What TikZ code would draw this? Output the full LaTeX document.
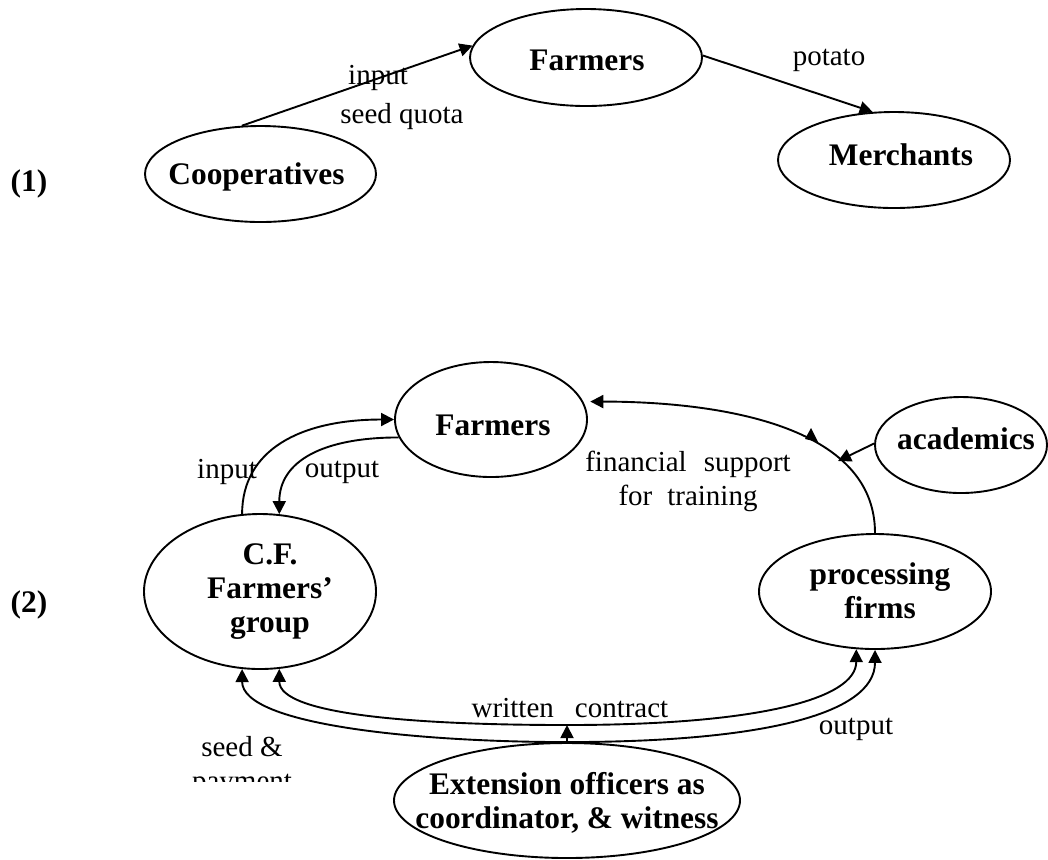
\documentclass[tikz,border=0pt]{standalone}
\usepackage{fontspec}
\setmainfont{Liberation Serif}
\usetikzlibrary{arrows.meta,shapes.geometric}
\begin{document}
\begin{tikzpicture}[x=0.5pt,y=-0.5pt,
  ell/.style={draw,ellipse,line width=0.95pt,inner sep=0pt},
  bt/.style={font=\fontsize{15.7}{17}\selectfont\bfseries,align=center,inner sep=0pt},
  lt/.style={font=\fontsize{14.5}{17}\selectfont,align=center,inner sep=0pt},
  con/.style={line width=0.95pt,-{Triangle[length=6.5pt,width=6.5pt]}},
  dcon/.style={line width=0.95pt,{Triangle[length=6.5pt,width=6.5pt]}-{Triangle[length=6.5pt,width=6.5pt]}}]
\useasboundingbox (0,0) rectangle (1048,859);

% ---------- diagram (1) ----------
\node[bt] (n1) at (29,184) {(1)};
\node[ell,minimum width=115.5pt,minimum height=48pt] (coop) at (260.5,174) {};
\node[bt] (cooplab) at (256.5,177) {Cooperatives};
\node[ell,minimum width=116pt,minimum height=48.5pt] (farm1) at (586,57.5) {};
\node[bt] (farm1lab) at (587,60) {Farmers};
\node[ell,minimum width=116pt,minimum height=48pt] (merch) at (894,160) {};
\node[bt] (merchlab) at (901,155) {Merchants};

\draw[con] (coop.111) -- (farm1.174);
\draw[con] (farm1.1) -- (merch.114);
\node[lt] (inlab1) at (378,78) {input};
\node[lt] (sqlab) at (402,117) {seed quota};
\node[lt] (potlab) at (829,60) {potato};

% ---------- diagram (2) ----------
\node[bt] (n2) at (29,605) {(2)};
\node[ell,minimum width=96pt,minimum height=57.5pt] (farm2) at (491,419.5) {};
\node[bt] (farm2lab) at (493,425) {Farmers};
\node[ell,minimum width=86pt,minimum height=48pt] (acad) at (961,445) {};
\node[bt] (acadlab) at (966,439) {academics};
\node[ell,minimum width=116pt,minimum height=77.5pt] (cf) at (260,591.5) {};
\node[bt] (cflab) at (270,592) {C.F.\\Farmers'\\group};
\node[ell,minimum width=116pt,minimum height=57.5pt] (proc) at (875,591.5) {};
\node[bt] (proclab) at (880,591) {processing\\firms};
\node[ell,minimum width=173pt,minimum height=57.5pt] (ext) at (567,800.5) {};
\node[bt] (extlab) at (567,803) {Extension officers as\\coordinator, \& witness};

% input / output between C.F. group and farmers
\draw[con] (cf.103) .. controls +(0,-64) and +(-94,0) .. (farm2.180);
\draw[con] (farm2.191) .. controls +(-76,0) and +(0,-53) .. (cf.76);
\node[lt] (inlab2) at (227,472) {input};
\node[lt] (outlab2) at (342,472) {output};

% financial support
\draw[con,shorten >=3.5pt] (proc.north) .. controls +(0,-114) and +(118,0) .. (farm2.11);
\fill (811,428) -- (805,439) -- (818,442) -- cycle;
\coordinate (fs) at (838,461);
\draw[con] (acad.179) -- (fs);
\node[lt] (finlab) at (688,481) {financial\hspace{8.5pt}support\\for\hspace{7.5pt}training};

% written contract and output
\coordinate (mi) at (567,725);
\draw[dcon] (cf.284.5) .. controls +(0,46) and +(-150,0) .. (mi)
            .. controls +(190,0) and +(0,50) .. (proc.252);
\draw[dcon] (cf.257) .. controls +(0,56) and +(-148,0) .. (ext.north)
            .. controls +(192,0) and +(0,65) .. (proc.south);
\draw[con] (ext.north) -- (mi);
\node[lt] (wclab) at (570,708) {written\hspace{10.5pt}contract};
\node[lt] (outlab3) at (856,729) {output};
\begin{scope}
  \clip (0,0) rectangle (1048,781);
  \node[lt,anchor=north] (seedlab) at (242,736) {seed \&\\payment};
\end{scope}
\end{tikzpicture}
\end{document}
